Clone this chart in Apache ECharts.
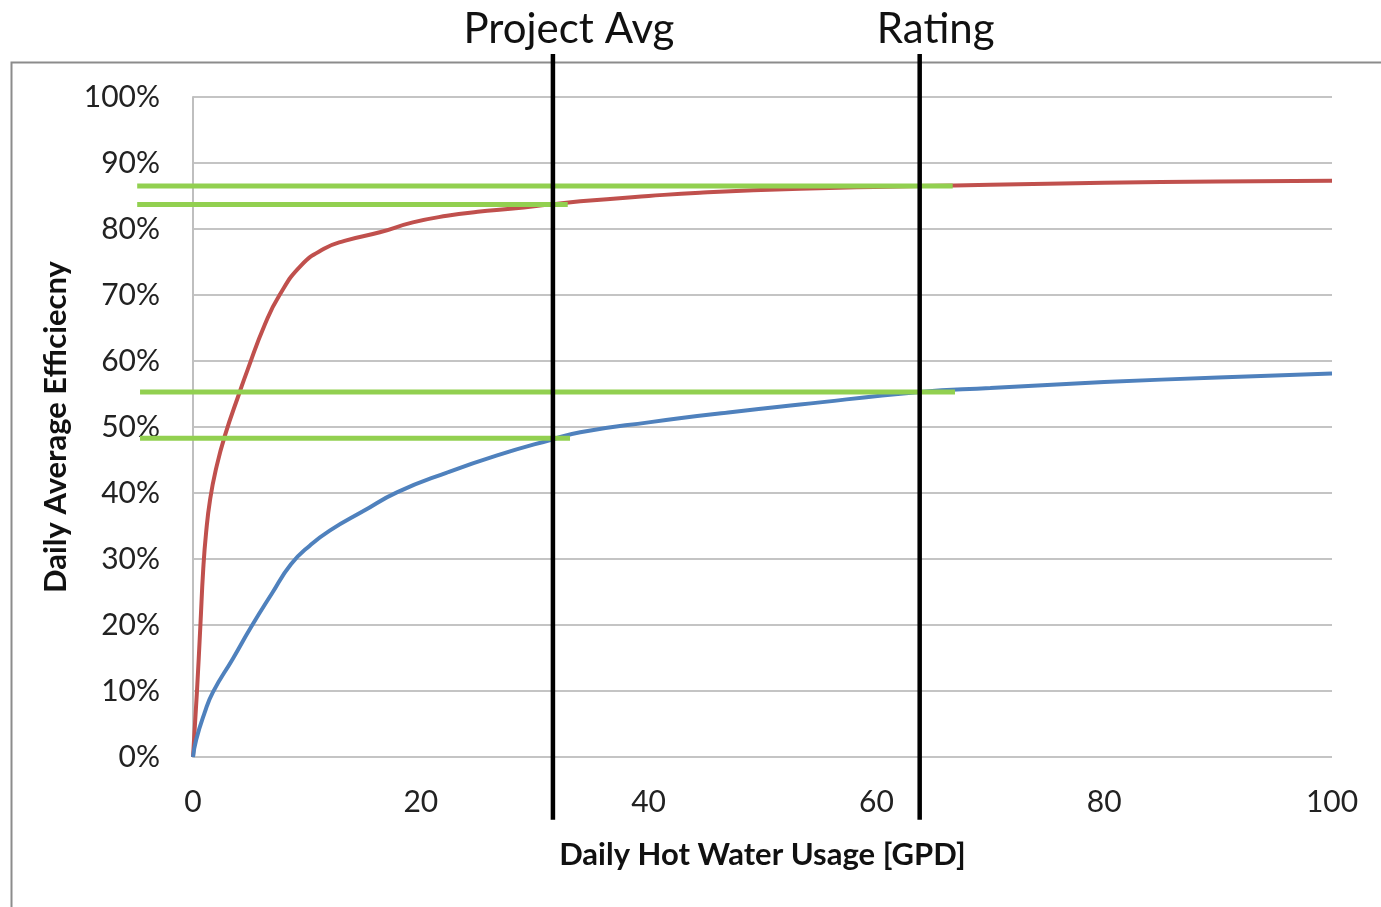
<!DOCTYPE html>
<html>
<head>
<meta charset="utf-8">
<script src="https://cdn.jsdelivr.net/npm/echarts@6/dist/echarts.min.js"></script>
<style>
html,body{margin:0;padding:0;background:#fff;}
#chart{width:1381px;height:907px;}
</style>
</head>
<body>
<div id="chart"></div>
<script>
// ---- data ----
const xTicks = [0, 20, 40, 60, 80, 100];
const yTicks = [0, 10, 20, 30, 40, 50, 60, 70, 80, 90, 100];
const xTitle = 'Daily Hot Water Usage [GPD]';
const yTitle = 'Daily Average Efficiecny';

const redX = [0, 0.35, 0.65, 0.9, 1.15, 1.5, 2.0, 2.8, 4.1, 4.8, 6.3, 7.6, 9.5, 11.5, 13.3, 16.4, 19.3, 22.3, 25.0, 28.1, 31.3, 34.0, 40.0, 44.5, 53.3, 63.8, 70.0, 80.0, 90.0, 100.0];
const redY = [0, 10, 20, 28.5, 34, 39, 43.5, 48.7, 55.3, 58.7, 65.5, 70.0, 74.5, 77.0, 78.2, 79.5, 81.0, 82.0, 82.6, 83.1, 83.7, 84.2, 85.0, 85.5, 86.1, 86.5, 86.7, 87.0, 87.2, 87.3];

const blueX = [0, 0.28, 1.0, 1.74, 3.5, 5.1, 6.9, 8.6, 10.3, 12.0, 15.0, 17.9, 22.3, 26.7, 31.3, 34.0, 40.0, 47.0, 53.3, 63.8, 70.0, 80.0, 90.0, 100.0];
const blueY = [0, 2.6, 6.6, 9.8, 14.9, 19.7, 24.7, 29.2, 32.1, 34.3, 37.3, 40.1, 43.1, 45.7, 48.0, 49.2, 50.7, 52.2, 53.4, 55.3, 55.9, 56.8, 57.5, 58.1];

const greenLevels = [86.5, 83.7, 55.3, 48.3];
const greenStart  = [-4.9, -4.9, -4.65, -4.65];
const greenEnd    = [66.7, 32.9, 66.9, 33.1];

const markerNames = ['Project Avg', 'Rating'];
const markerX = [31.6, 63.8];
const markerYRange = [-9.5, 106.5];

// ---- build ----
const zip = (xs, ys) => xs.map((x, i) => [x, ys[i]]);
const FONT = 'Lato, "Noto Sans", sans-serif';

// layout of the main plot area
const PLOT_LEFT = 193, PLOT_RIGHT = 49, PLOT_TOP = 97, PLOT_BOTTOM = 150;
const plotW = 1381 - PLOT_LEFT - PLOT_RIGHT;
const xMin = xTicks[0], xMax = xTicks[xTicks.length - 1];
const pxPerUnit = plotW / (xMax - xMin);
// overlay grid sharing the same x scale but extending further left (for the green guide lines)
const overlayMin = Math.min.apply(null, greenStart);
const overlayLeft = PLOT_LEFT + (overlayMin - xMin) * pxPerUnit;

const series = [
  {
    type: 'line', name: 'red', data: zip(redX, redY), showSymbol: false, smooth: 0.5,
    lineStyle: { color: '#c0504d', width: 4 }, z: 2, clip: false
  },
  {
    type: 'line', name: 'blue', data: zip(blueX, blueY), showSymbol: false, smooth: 0.5,
    lineStyle: { color: '#4f81bd', width: 4 }, z: 2, clip: false
  }
];

greenLevels.forEach((lvl, i) => {
  series.push({
    type: 'line', xAxisIndex: 1, yAxisIndex: 1,
    data: [[greenStart[i], lvl], [greenEnd[i], lvl]], showSymbol: false,
    lineStyle: { color: '#92d050', width: 5 }, z: 3, clip: false, silent: true
  });
});

markerX.forEach((mx, i) => {
  series.push({
    type: 'line',
    data: [
      { value: [mx, markerYRange[0]], label: { show: false } },
      { value: [mx, markerYRange[1]],
        label: { show: true, position: 'top', distance: 3, offset: [16, 0],
                 formatter: markerNames[i], fontFamily: FONT, fontSize: 42, color: '#111' } }
    ],
    showSymbol: true, symbol: 'circle', symbolSize: 1,
    itemStyle: { color: 'rgba(0,0,0,0)' },
    lineStyle: { color: '#000', width: 4.5 }, z: 4, clip: false, silent: true
  });
});

const chart = echarts.init(document.getElementById('chart'), null, { renderer: 'canvas' });
chart.setOption({
  animation: false,
  backgroundColor: '#fff',
  graphic: [{
    type: 'rect', left: 9, top: 60, z: -10,
    shape: { width: 1500, height: 1000 },
    style: { fill: 'none', stroke: '#8c8c8c', lineWidth: 2 }
  }],
  grid: [
    { left: PLOT_LEFT, right: PLOT_RIGHT, top: PLOT_TOP, bottom: PLOT_BOTTOM, containLabel: false },
    { left: overlayLeft, right: PLOT_RIGHT, top: PLOT_TOP, bottom: PLOT_BOTTOM, containLabel: false }
  ],
  xAxis: [{
    type: 'value', min: xMin, max: xMax, interval: 20,
    name: xTitle, nameLocation: 'middle', nameGap: 82,
    nameTextStyle: { fontFamily: FONT, fontSize: 31, fontWeight: 'bold', color: '#111' },
    axisLine: { show: false }, axisTick: { show: false }, splitLine: { show: false },
    axisLabel: { fontFamily: FONT, fontSize: 30, color: '#222', margin: 30 }
  }, {
    type: 'value', gridIndex: 1, min: overlayMin, max: xMax, show: false
  }],
  yAxis: [{
    type: 'value', min: yTicks[0], max: yTicks[yTicks.length - 1], interval: 10,
    name: yTitle, nameLocation: 'middle', nameGap: 122,
    nameTextStyle: { fontFamily: FONT, fontSize: 31, fontWeight: 'bold', color: '#111' },
    axisLine: { show: true, lineStyle: { color: '#bfbfbf', width: 2 } },
    axisTick: { show: false },
    splitLine: { show: true, lineStyle: { color: '#c4c4c4', width: 2 } },
    axisLabel: { fontFamily: FONT, fontSize: 30, color: '#222', margin: 33, formatter: '{value}%' }
  }, {
    type: 'value', gridIndex: 1, min: yTicks[0], max: yTicks[yTicks.length - 1], show: false
  }],
  series: series
});
</script>
</body>
</html>
